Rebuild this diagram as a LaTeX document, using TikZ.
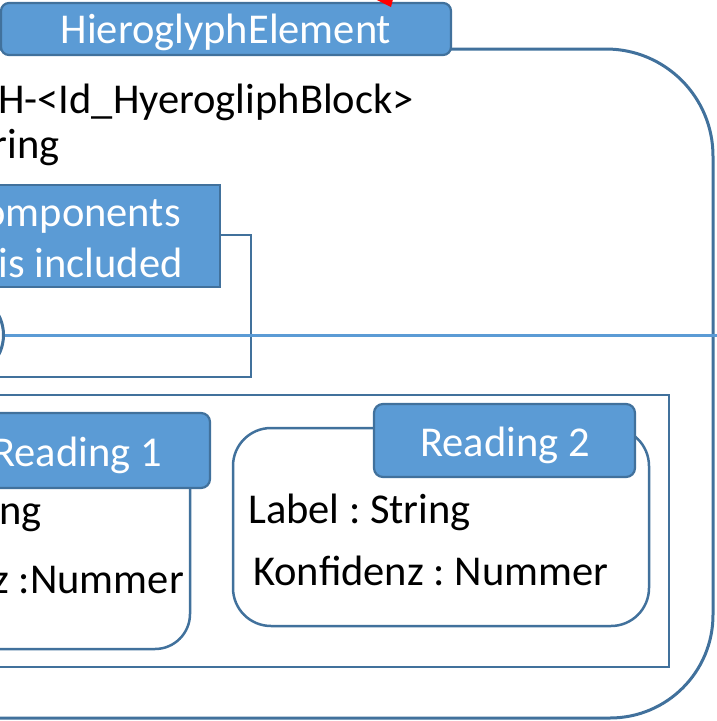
\documentclass[tikz,border=0pt]{standalone}
\usepackage{fontspec}
\setmainfont{Carlito}
\frenchspacing
\definecolor{boxfill}{HTML}{5B9BD5}
\definecolor{boxedge}{HTML}{41719C}
\definecolor{linkblue}{HTML}{5B9BD5}
\tikzset{
  txt/.style={inner sep=0pt, font=\fontsize{42.5}{51}\selectfont},
  wtxt/.style={txt, text=white},
  tab/.style={draw=boxedge, line width=2.2pt, fill=boxfill, rounded corners=9pt},
  card/.style={draw=boxedge, line width=2.5pt, fill=white},
  frame/.style={draw=boxedge, line width=2.5pt},
}
\begin{document}
\begin{tikzpicture}[x=1pt,y=-1pt]
\useasboundingbox (0,0) rectangle (716,721);

% outer element frame
\draw[frame, line width=3pt] (-60,49) [rounded corners=107pt] -- (713,49)
  [rounded corners=103pt] -- (713,718) -- (-60,718);

% title tab
\draw[tab, rounded corners=8pt] (1,3) rectangle (451,55);
\node[wtxt, anchor=base] (title) at (226,43) {HieroglyphElement};
\fill[red] (375,-1) -- (393,-1) -- (391,7) -- cycle;

% attributes
\node[txt, anchor=base west] (idattr) at (-2,113) {H-<Id\_HyerogliphBlock>};
\node[txt, anchor=base east] (strattr) at (60,158) {ring};

% component frame with its heading
\draw[frame] (-20,235) rectangle (251,377);
\draw[draw=boxedge, line width=2.2pt, fill=boxfill] (-20,185) rectangle (220,287);
\node[wtxt, anchor=base east] (comp1) at (181,226) {omponents};
\node[wtxt, anchor=base east] (comp2) at (183,277) {is included};

% link line with its end circle
\node[circle, draw=boxedge, line width=3pt, minimum size=86pt, inner sep=0pt] (endc) at (-39.5,335) {};
\coordinate (lineend) at (720,335);
\draw[linkblue, line width=3pt] (endc.east) -- (lineend);

% readings frame
\draw[frame] (-20,395) rectangle (669,667);

% reading 1
\draw[card, rounded corners=35pt] (-60,428) rectangle (190,649);
\draw[tab] (-60,413) rectangle (210,488);
\node[wtxt, anchor=base east] (r1title) at (162,466) {Reading 1};
\node[txt, anchor=base east] (r1a) at (42,524) {ng};
\node[txt, anchor=base east] (r1b) at (184,593) {z :Nummer};

% reading 2
\draw[card, rounded corners=38pt] (233,428) rectangle (649,626);
\draw[tab] (374,404) rectangle (635,477);
\node[wtxt, anchor=base] (r2title) at (505,456) {Reading 2};
\node[txt, anchor=base west] (r2a) at (248,523) {Label : String};
\node[txt, anchor=base west] (r2b) at (253,585) {Konfidenz : Nummer};
\end{tikzpicture}
\end{document}
